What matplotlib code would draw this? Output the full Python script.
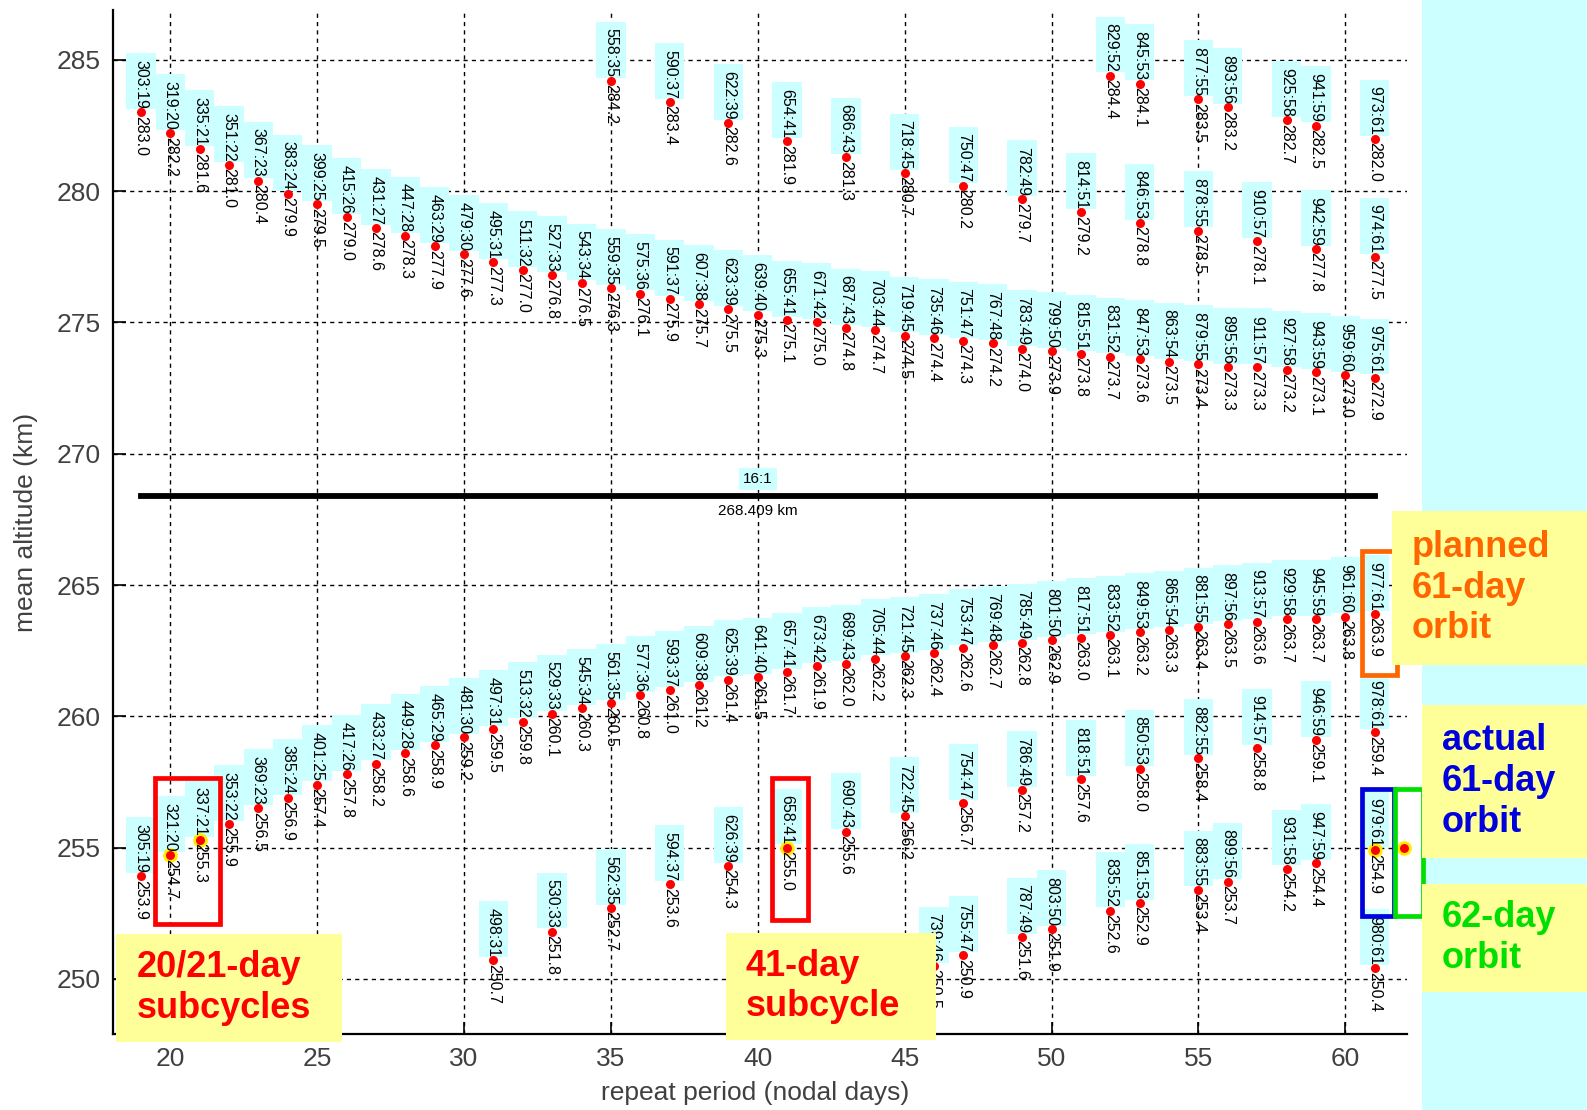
import matplotlib

matplotlib.use("Agg")
import matplotlib.pyplot as plt
from matplotlib.patches import Rectangle

plt.rcParams["font.family"] = ["Liberation Sans", "DejaVu Sans"]

# repeat orbits, grouped by revs = 16*days + k
# k = -3
days_a = [52, 53, 55, 56, 58, 59, 61]
revs_a = [829, 845, 877, 893, 925, 941, 973]
alt_a = [284.4, 284.1, 283.5, 283.2, 282.7, 282.5, 282.0]

# k = -2
days_b = [35, 37, 39, 41, 43, 45, 47, 49, 51, 53, 55, 57, 59, 61]
revs_b = [558, 590, 622, 654, 686, 718, 750, 782, 814, 846, 878, 910, 942, 974]
alt_b = [284.2, 283.4, 282.6, 281.9, 281.3, 280.7, 280.2, 279.7, 279.2, 278.8,
         278.5, 278.1, 277.8, 277.5]

# k = -1
days_c = [19, 20, 21, 22, 23, 24, 25, 26, 27, 28, 29, 30, 31, 32, 33, 34, 35,
          36, 37, 38, 39, 40, 41, 42, 43, 44, 45, 46, 47, 48, 49, 50, 51, 52,
          53, 54, 55, 56, 57, 58, 59, 60, 61]
revs_c = [303, 319, 335, 351, 367, 383, 399, 415, 431, 447, 463, 479, 495, 511,
          527, 543, 559, 575, 591, 607, 623, 639, 655, 671, 687, 703, 719, 735,
          751, 767, 783, 799, 815, 831, 847, 863, 879, 895, 911, 927, 943, 959,
          975]
alt_c = [283.0, 282.2, 281.6, 281.0, 280.4, 279.9, 279.5, 279.0, 278.6, 278.3,
         277.9, 277.6, 277.3, 277.0, 276.8, 276.5, 276.3, 276.1, 275.9, 275.7,
         275.5, 275.3, 275.1, 275.0, 274.8, 274.7, 274.5, 274.4, 274.3, 274.2,
         274.0, 273.9, 273.8, 273.7, 273.6, 273.5, 273.4, 273.3, 273.3, 273.2,
         273.1, 273.0, 272.9]

# k = +1
days_d = [19, 20, 21, 22, 23, 24, 25, 26, 27, 28, 29, 30, 31, 32, 33, 34, 35,
          36, 37, 38, 39, 40, 41, 42, 43, 44, 45, 46, 47, 48, 49, 50, 51, 52,
          53, 54, 55, 56, 57, 58, 59, 60, 61]
revs_d = [305, 321, 337, 353, 369, 385, 401, 417, 433, 449, 465, 481, 497, 513,
          529, 545, 561, 577, 593, 609, 625, 641, 657, 673, 689, 705, 721, 737,
          753, 769, 785, 801, 817, 833, 849, 865, 881, 897, 913, 929, 945, 961,
          977]
alt_d = [253.9, 254.7, 255.3, 255.9, 256.5, 256.9, 257.4, 257.8, 258.2, 258.6,
         258.9, 259.2, 259.5, 259.8, 260.1, 260.3, 260.5, 260.8, 261.0, 261.2,
         261.4, 261.5, 261.7, 261.9, 262.0, 262.2, 262.3, 262.4, 262.6, 262.7,
         262.8, 262.9, 263.0, 263.1, 263.2, 263.3, 263.4, 263.5, 263.6, 263.7,
         263.7, 263.8, 263.9]

# k = +2
days_e = [31, 33, 35, 37, 39, 41, 43, 45, 47, 49, 51, 53, 55, 57, 59, 61]
revs_e = [498, 530, 562, 594, 626, 658, 690, 722, 754, 786, 818, 850, 882, 914,
          946, 978]
alt_e = [250.7, 251.8, 252.7, 253.6, 254.3, 255.0, 255.6, 256.2, 256.7, 257.2,
         257.6, 258.0, 258.4, 258.8, 259.1, 259.4]

# k = +3
days_f = [46, 47, 49, 50, 52, 53, 55, 56, 58, 59, 61]
revs_f = [739, 755, 787, 803, 835, 851, 883, 899, 931, 947, 979]
alt_f = [250.5, 250.9, 251.6, 251.9, 252.6, 252.9, 253.4, 253.7, 254.2, 254.4,
         254.9]

# k = +4
days_g = [61]
revs_g = [980]
alt_g = [250.4]

# 62-day orbit
day_62 = 62
alt_62 = 255.0

# exact 16:1 resonance
res_label = "16:1"
res_alt = 268.409

highlighted = ["321:20", "337:21", "658:41", "979:61"]

x_ticks = [20, 25, 30, 35, 40, 45, 50, 55, 60]
y_ticks = [250, 255, 260, 265, 270, 275, 280, 285]

CYAN = "#ccffff"
YELLOW = "#ffff99"
RED = "#ff0000"
ORANGE = "#ff6600"
BLUE = "#0000dd"
GREEN = "#00e000"
GREY = "#404040"

families = [
    (days_a, revs_a, alt_a),
    (days_b, revs_b, alt_b),
    (days_c, revs_c, alt_c),
    (days_d, revs_d, alt_d),
    (days_e, revs_e, alt_e),
    (days_f, revs_f, alt_f),
    (days_g, revs_g, alt_g),
]

W, H = 1587, 1110
fig = plt.figure(figsize=(W / 100, H / 100), dpi=100)

# cyan strip along the right edge
fig.add_artist(Rectangle((1422 / W, 0), (W - 1422) / W, 1, transform=fig.transFigure,
                         fc=CYAN, ec="none", zorder=-5))

ax = fig.add_axes([113 / W, 1 - 1034 / H, 1294 / W, 1024 / H])
ax.set_facecolor("none")
ax.set_xlim(18.05, 62.1)
ax.set_ylim(247.9, 286.9)

ax.set_xticks(x_ticks)
ax.set_yticks(y_ticks)
ax.tick_params(direction="in", length=9, width=1.2, labelsize=19,
               labelcolor=GREY, pad=9)
ax.grid(True, color="black", linestyle=(0, (3, 3)), linewidth=1.0, zorder=0)
ax.set_axisbelow(True)
for side in ("top", "right"):
    ax.spines[side].set_visible(False)
for side in ("left", "bottom"):
    ax.spines[side].set_linewidth(1.6)

ax.set_xlabel("repeat period (nodal days)", fontsize=19, color=GREY)
ax.set_ylabel("mean altitude (km)", fontsize=19, color=GREY)
ax.xaxis.set_label_coords(0.496, -0.046)
ax.yaxis.set_label_coords(-0.058, 0.5)

for days, revs, alts in families:
    for d, r, a in zip(days, revs, alts):
        name = f"{r}:{d}"
        ax.add_patch(Rectangle((d - 0.5, a + 0.12), 1.0, 2.13, fc=CYAN,
                               ec="none", zorder=1))
        if name in highlighted:
            ax.plot(d, a, "o", ms=8.5, mfc=RED, mec="#ffee00", mew=2, zorder=3)
        else:
            ax.plot(d, a, "o", ms=6.5, mfc=RED, mec="none", zorder=3)
        ax.annotate(name, (d, a), xytext=(0, 2.5), textcoords="offset points",
                    rotation=-90, ha="center", va="bottom", fontsize=11.5,
                    zorder=4)
        ax.annotate(f"{a:.1f}", (d, a), xytext=(0, -2.5),
                    textcoords="offset points", rotation=-90, ha="center",
                    va="top", fontsize=11.5, zorder=4)

ax.plot(day_62, alt_62, "o", ms=8.5, mfc=RED, mec="#ffee00", mew=2, zorder=3,
        clip_on=False)

# resonance line
x_lo, x_hi = min(days_c), max(days_c)
ax.plot([x_lo, x_hi], [res_alt, res_alt], color="black", lw=4.2,
        solid_capstyle="projecting", zorder=2)
x_mid = (x_lo + x_hi) / 2
ax.annotate(res_label, (x_mid, res_alt), xytext=(0, 7), textcoords="offset points",
            ha="center", va="bottom", fontsize=11,
            bbox=dict(fc=CYAN, ec="none", pad=3), zorder=4)
ax.annotate(f"{res_alt:.3f} km", (x_mid, res_alt), xytext=(0, -6),
            textcoords="offset points", ha="center", va="top", fontsize=11,
            zorder=4)


def box_around(pts, color, left, right, below, above):
    xs = [p[0] for p in pts]
    ys = [p[1] for p in pts]
    x0, x1 = min(xs) - left, max(xs) + right
    y0, y1 = min(ys) - below, max(ys) + above
    ax.add_patch(Rectangle((x0, y0), x1 - x0, y1 - y0, fill=False, ec=color,
                           lw=3.4, zorder=5, clip_on=False))


box_around([(20, 254.7), (21, 255.3)], RED, 0.52, 0.68, 2.6, 2.35)
box_around([(41, 255.0)], RED, 0.52, 0.72, 2.75, 2.65)
box_around([(61, 263.9)], ORANGE, 0.42, 0.75, 2.34, 2.4)
box_around([(61, 254.9)], BLUE, 0.42, 0.65, 2.5, 2.34)
box_around([(day_62, alt_62)], GREEN, 0.32, 0.65, 2.6, 2.24)


def note(x0, y0, x1, y1, tx, text, color):
    fig.add_artist(Rectangle((x0 / W, 1 - y1 / H), (x1 - x0) / W, (y1 - y0) / H,
                             transform=fig.transFigure, fc=YELLOW, ec="none",
                             zorder=6))
    fig.text(tx / W, 1 - (y0 + y1) / 2 / H, text, ha="left", va="center",
             fontsize=26, fontweight="bold", color=color, linespacing=1.22,
             zorder=7)


note(116, 934, 342, 1042, 137, "20/21-day\nsubcycles", RED)
note(726, 933, 936, 1040, 746, "41-day\nsubcycle", RED)
note(1392, 511, 1587, 665, 1412, "planned\n61-day\norbit", ORANGE)
note(1422, 705, 1587, 858, 1442, "actual\n61-day\norbit", BLUE)
note(1422, 884, 1587, 992, 1442, "62-day\norbit", GREEN)

fig.savefig("out.png", dpi=100)
